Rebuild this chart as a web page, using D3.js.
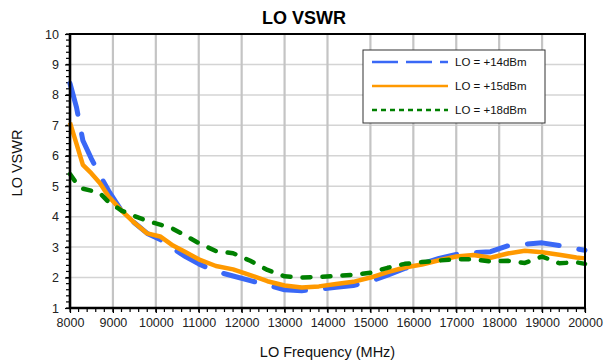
<!DOCTYPE html>
<html>
<head>
<meta charset="utf-8">
<script src="https://cdn.jsdelivr.net/npm/d3@7"></script>
<style>
  body { margin: 0; background: #fff; }
  svg { display: block; font-family: Arial, 'Liberation Sans', sans-serif; }
</style>
</head>
<body>
<div id="app"></div>
<script>
  // data
  const frequencies = [
    8000, 8150, 8300, 8500, 8700, 8900, 9200, 9500, 9800, 10100, 10400, 10700,
    11000, 11400, 11800, 12200, 12600, 13000, 13400, 13800, 14200, 14600, 15000,
    15400, 15800, 16200, 16600, 17000, 17400, 17800, 18200, 18600, 19000, 19400,
    19800, 20000,
  ];
  const lo14 = [
    8.38, 7.6, 6.5, 5.9, 5.35, 4.85, 4.2, 3.8, 3.45, 3.25, 2.95, 2.68,
    2.45, 2.2, 2.05, 1.9, 1.75, 1.6, 1.57, 1.62, 1.68, 1.74, 1.88,
    2.08, 2.3, 2.45, 2.63, 2.76, 2.82, 2.85, 3.04, 3.1, 3.14, 3.05,
    2.94, 2.9,
  ];
  const lo15 = [
    7.09, 6.4, 5.7, 5.42, 5.1, 4.66, 4.2, 3.8, 3.45, 3.35, 3.05, 2.83,
    2.6, 2.38, 2.27, 2.08, 1.88, 1.74, 1.67, 1.71, 1.79, 1.86, 2.0,
    2.18, 2.33, 2.43, 2.57, 2.69, 2.74, 2.65, 2.79, 2.88, 2.83, 2.75,
    2.66, 2.63,
  ];
  const lo18 = [
    5.4, 5.1, 4.92, 4.85, 4.77, 4.48, 4.2, 4.02, 3.86, 3.74, 3.6, 3.37,
    3.13, 2.87, 2.8, 2.55, 2.25, 2.04, 2.0, 2.02, 2.05, 2.09, 2.16,
    2.32, 2.45, 2.51, 2.56, 2.6, 2.6, 2.53, 2.55, 2.48, 2.69, 2.47,
    2.5, 2.45,
  ];
  const seriesNames = ['LO = +14dBm', 'LO = +15dBm', 'LO = +18dBm'];
  const xTicks = d3.range(8000, 20001, 1000);
  const yTicks = d3.range(1, 11, 1);

  const series = [
    { name: seriesNames[0], values: lo14, color: '#3a68f6', width: 5, dash: '32 20', legendDash: '26 8' },
    { name: seriesNames[1], values: lo15, color: '#ff9900', width: 4.5, dash: null, legendDash: null },
    { name: seriesNames[2], values: lo18, color: '#008000', width: 4.5, dash: '8 12', legendDash: '5 4' },
  ];

  // canvas
  const containerWidth = 613;
  const containerHeight = 364;
  const margin = { top: 34, right: 28, bottom: 56, left: 70 };
  const width = containerWidth - margin.left - margin.right;
  const height = containerHeight - margin.top - margin.bottom;

  const wrapper = d3
    .select('#app')
    .append('svg')
    .attr('width', containerWidth)
    .attr('height', containerHeight);

  const bounds = wrapper
    .append('g')
    .attr('transform', `translate(${margin.left},${margin.top})`);

  // scales
  const xScale = d3.scaleLinear().domain([8000, 20000]).range([0, width]);
  const yScale = d3.scaleLinear().domain([1, 10]).range([height, 0]);

  // grid
  bounds
    .append('g')
    .selectAll('line')
    .data(yTicks.slice(1, -1))
    .enter()
    .append('line')
    .attr('x1', 0)
    .attr('x2', width)
    .attr('y1', (d) => yScale(d))
    .attr('y2', (d) => yScale(d))
    .attr('stroke', '#d4d4d4')
    .attr('stroke-width', 1.5);

  bounds
    .append('g')
    .selectAll('line')
    .data(xTicks.slice(1, -1))
    .enter()
    .append('line')
    .attr('x1', (d) => xScale(d))
    .attr('x2', (d) => xScale(d))
    .attr('y1', 0)
    .attr('y2', height)
    .attr('stroke', '#c4c4c4')
    .attr('stroke-width', 2.2);

  // minor ticks
  const xMinor = d3.range(8000, 20001, 200);
  const yMinor = d3.range(1, 10.01, 0.2);

  bounds
    .append('g')
    .selectAll('line')
    .data(xMinor)
    .enter()
    .append('line')
    .attr('x1', (d) => xScale(d))
    .attr('x2', (d) => xScale(d))
    .attr('y1', height)
    .attr('y2', height + 4)
    .attr('stroke', '#000')
    .attr('stroke-width', 1.2);

  bounds
    .append('g')
    .selectAll('line')
    .data(yMinor)
    .enter()
    .append('line')
    .attr('x1', -4)
    .attr('x2', 0)
    .attr('y1', (d) => yScale(d))
    .attr('y2', (d) => yScale(d))
    .attr('stroke', '#000')
    .attr('stroke-width', 1.2);

  // axes
  const xAxis = bounds
    .append('g')
    .attr('transform', `translate(0, ${height})`)
    .call(d3.axisBottom(xScale).tickValues(xTicks).tickSize(5).tickFormat(d3.format('d')));

  const yAxis = bounds
    .append('g')
    .call(d3.axisLeft(yScale).tickValues(yTicks).tickSize(5).tickFormat(d3.format('d')));

  [xAxis, yAxis].forEach((axis) => {
    axis.select('.domain').remove();
    axis.selectAll('.tick line').attr('stroke', '#000').attr('stroke-width', 1.2);
    axis
      .selectAll('.tick text')
      .attr('fill', '#222')
      .style('font-size', '12.5px')
      .style('font-family', 'Arial, "Liberation Sans", sans-serif');
  });
  xAxis.selectAll('.tick text').attr('dy', '0.71em').attr('y', 10);
  yAxis.selectAll('.tick text').attr('x', -11);

  // lines
  const lineGenerator = (values) =>
    d3
      .line()
      .x((d, i) => xScale(frequencies[i]))
      .y((d) => yScale(d))(values);

  const linesGroup = bounds.append('g');
  series.forEach((s) => {
    linesGroup
      .append('path')
      .attr('d', lineGenerator(s.values))
      .attr('fill', 'none')
      .attr('stroke', s.color)
      .attr('stroke-width', s.width)
      .attr('stroke-linejoin', 'round')
      .attr('stroke-linecap', s.dash ? 'round' : 'butt')
      .attr('stroke-dasharray', s.dash);
  });

  // frame
  bounds
    .append('rect')
    .attr('width', width)
    .attr('height', height)
    .attr('fill', 'none')
    .attr('stroke', '#000')
    .attr('stroke-width', 2);
  bounds
    .append('path')
    .attr('d', `M0,0 V${height} H${width}`)
    .attr('fill', 'none')
    .attr('stroke', '#000')
    .attr('stroke-width', 2.6);

  // legend
  const legendGroup = wrapper.append('g').attr('transform', 'translate(363, 50)');
  legendGroup
    .append('rect')
    .attr('width', 182)
    .attr('height', 73)
    .attr('fill', '#fff')
    .attr('stroke', '#333')
    .attr('stroke-width', 1);

  const legendRows = legendGroup
    .selectAll('.legend-row')
    .data(series)
    .enter()
    .append('g')
    .attr('transform', (d, i) => `translate(0, ${12 + i * 24})`);

  legendRows
    .append('line')
    .attr('x1', 9)
    .attr('x2', 85)
    .attr('stroke', (d) => d.color)
    .attr('stroke-width', 2.5)
    .attr('stroke-dasharray', (d) => d.legendDash);

  legendRows
    .append('text')
    .attr('x', 92)
    .attr('dy', '0.35em')
    .attr('fill', '#111')
    .style('font-size', '11.5px')
    .text((d) => d.name);

  // titles
  wrapper
    .append('text')
    .attr('x', 304)
    .attr('y', 24)
    .attr('text-anchor', 'middle')
    .style('font-size', '18px')
    .style('font-weight', 'bold')
    .text('LO VSWR');

  wrapper
    .append('text')
    .attr('x', margin.left + width / 2)
    .attr('y', 357)
    .attr('text-anchor', 'middle')
    .attr('fill', '#111')
    .style('font-size', '14.5px')
    .text('LO Frequency (MHz)');

  wrapper
    .append('text')
    .attr('transform', `translate(22, ${margin.top + height / 2 - 8}) rotate(-90)`)
    .attr('text-anchor', 'middle')
    .attr('fill', '#111')
    .style('font-size', '14.5px')
    .text('LO VSWR');
</script>
</body>
</html>
